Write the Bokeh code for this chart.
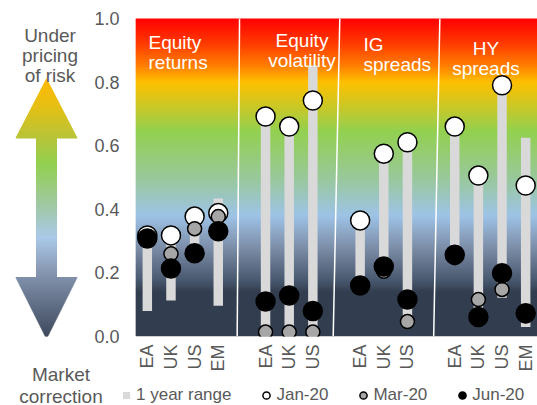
import numpy as np
from bokeh.plotting import figure
from bokeh.models import (Range1d, FixedTicker, Legend, LegendItem, ColumnDataSource,
                          NumeralTickFormatter, Label, LinearAxis)
from bokeh.layouts import row, column
from bokeh.embed import file_html
from bokeh.resources import INLINE
from bokeh.core.properties import value

# ---------------- data ----------------
group_titles = ["Equity\nreturns", "Equity\nvolatility", "IG\nspreads", "HY\nspreads"]
group_members = [["EA", "UK", "US", "EM"], ["EA", "UK", "US"], ["EA", "UK", "US"], ["EA", "UK", "US", "EM"]]

range_low = [0.08, 0.113, 0.25, 0.097, 0.014, 0.014, 0.014, 0.16, 0.20, 0.05, 0.245, 0.06, 0.122, 0.03]
range_high = [0.318, 0.318, 0.377, 0.434, 0.692, 0.66, 0.852, 0.365, 0.575, 0.611, 0.66, 0.506, 0.79, 0.625]
jan_20 = [0.318, 0.318, 0.377, 0.388, 0.692, 0.66, 0.742, 0.365, 0.575, 0.611, 0.66, 0.506, 0.79, 0.475]
mar_20 = [0.305, 0.26, 0.339, 0.377, 0.014, 0.014, 0.014, 0.155, 0.205, 0.047, 0.248, 0.116, 0.148, 0.065]
jun_20 = [0.308, 0.214, 0.262, 0.331, 0.11, 0.129, 0.08, 0.16, 0.22, 0.116, 0.257, 0.061, 0.199, 0.073]

y_ticks = [0.0, 0.2, 0.4, 0.6, 0.8, 1.0]
legend_labels = ["1 year range", "Jan-20", "Mar-20", "Jun-20"]
top_note = ["Under", "pricing", "of risk"]
bottom_note = ["Market", "correction"]

# ---------------- style / layout ----------------
FONT = "Liberation Sans"
GREY_TEXT = "#595959"
BAR_COLOR = "#d9d9d9"
JAN_STYLE = dict(fill_color="white", line_color="black", line_width=1.5)
MAR_STYLE = dict(fill_color="#a6a6a6", line_color="black", line_width=1.5)
JUN_STYLE = dict(fill_color="black", line_color="black", line_width=1.5)
PAGE_W, PAGE_H = 537, 405
BORDER_TOP, FRAME_H = 18, 318
LEGEND_H = 18
ROW_H = PAGE_H - LEGEND_H
BORDER_BOTTOM = ROW_H - BORDER_TOP - FRAME_H
SIDE_W, MAIN_BORDER_LEFT = 90, 45
MAIN_W = PAGE_W - SIDE_W

bg_stops = [(0.0, "#333f50"), (0.14, "#333f50"), (0.18, "#4a5a70"), (0.28, "#7d8ea8"),
            (0.38, "#9dc3e6"), (0.50, "#99c89a"), (0.645, "#92d050"), (0.72, "#c8c828"),
            (0.80, "#fec000"), (0.85, "#ff8000"), (0.92, "#ff3c00"), (1.0, "#ff0000")]
arrow_stops = [(-0.009, "#3b4659"), (0.05, "#4f5c72"), (0.2075, "#8898b2"), (0.311, "#a9c9e9"),
               (0.418, "#a0c8a0"), (0.544, "#92d050"), (0.626, "#b8c438"), (0.726, "#e6bf14"),
               (0.811, "#ffb900")]
# slant of the white group dividers (offsets from the gap centre, top and bottom)
divider_top_shift = [-0.10, 0.14, 0.37]
divider_bottom_shift = [-0.20, -0.14, 0.11]


def hex_to_rgb(h):
    h = h.lstrip("#")
    return [int(h[i:i + 2], 16) for i in (0, 2, 4)]


def gradient(stops, vals):
    pos = [s[0] for s in stops]
    rgb = np.array([hex_to_rgb(s[1]) for s in stops], dtype=float)
    out = []
    for v in vals:
        c = [int(round(np.interp(v, pos, rgb[:, k]))) for k in range(3)]
        out.append("#%02x%02x%02x" % tuple(c))
    return out


def page_y(y):
    """page pixel row -> value on the shared 0..1 scale"""
    return (BORDER_TOP + FRAME_H - y) / FRAME_H


def bare_axis(axis):
    axis.axis_line_color = None
    axis.major_tick_line_color = None
    axis.minor_tick_line_color = None
    axis.major_tick_out = 0
    axis.major_tick_in = 0
    axis.major_label_text_font = FONT
    axis.major_label_text_color = GREY_TEXT


# slot positions: one empty slot between groups
xs, labels = [], []
group_spans = []
slot = 0
for members in group_members:
    start = slot
    for m in members:
        xs.append(slot + 0.5)
        labels.append(m)
        slot += 1
    group_spans.append((start, slot))
    slot += 1
n_slots = slot - 1

# ---------------- main figure ----------------
p = figure(width=MAIN_W, height=ROW_H, x_range=Range1d(0, n_slots), y_range=Range1d(0, 1),
           toolbar_location=None, output_backend="svg",
           min_border_left=MAIN_BORDER_LEFT, min_border_right=0,
           min_border_top=BORDER_TOP, min_border_bottom=BORDER_BOTTOM)
p.outline_line_color = None
p.xgrid.visible = False
p.ygrid.visible = False

# background gradient
edges = np.linspace(0, 1, FRAME_H + 1)
mids = (edges[:-1] + edges[1:]) / 2
p.quad(left=0, right=n_slots, bottom=edges[:-1], top=edges[1:] + 0.6 / FRAME_H,
       fill_color=gradient(bg_stops, mids), line_color=None)

# group dividers
gap_centres = [e + 0.5 for (s, e) in group_spans[:-1]]
p.segment(x0=[g + d for g, d in zip(gap_centres, divider_top_shift)], y0=1,
          x1=[g + d for g, d in zip(gap_centres, divider_bottom_shift)], y1=0,
          line_color="white", line_width=1.5)

src = ColumnDataSource(dict(x=xs, low=range_low, high=range_high, jan=jan_20, mar=mar_20, jun=jun_20))
p.vbar(x="x", bottom="low", top="high", width=0.4, source=src, fill_color=BAR_COLOR, line_color=None)
p.scatter(x="x", y="jan", source=src, size=19, **JAN_STYLE)
p.scatter(x="x", y="mar", source=src, size=14, **MAR_STYLE)
p.scatter(x="x", y="jun", source=src, size=19, **JUN_STYLE)

# group titles
title_x = [0.55, 7.04, 9.64, 14.82]
title_align = ["left", "center", "left", "center"]
title_base = [41.7, 40.0, 44.3, 47.7]  # baseline of first line, page px
line_gap = 20 / FRAME_H
tx, ty, tt, ta = [], [], [], []
for t, x0, b0, al in zip(group_titles, title_x, title_base, title_align):
    for k, line in enumerate(t.split("\n")):
        tx.append(x0)
        ty.append(page_y(b0) - k * line_gap)
        tt.append(line)
        ta.append(al)
p.text(x=tx, y=ty, text=tt, text_align=ta, text_baseline="alphabetic",
       text_font=value(FONT), text_font_size="19px", text_color="white")

# axes
p.yaxis.ticker = FixedTicker(ticks=y_ticks)
p.yaxis.formatter = NumeralTickFormatter(format="0.0")
bare_axis(p.yaxis[0])
p.yaxis.major_label_text_font_size = "18px"
p.yaxis.major_label_standoff = 16

p.xaxis.ticker = FixedTicker(ticks=xs)
p.xaxis.major_label_overrides = {x: l for x, l in zip(xs, labels)}
p.xaxis.major_label_orientation = np.pi / 2
bare_axis(p.xaxis[0])
p.xaxis.major_label_text_font_size = "18px"
p.xaxis.major_label_standoff = 8

# ---------------- side figure: arrow and notes ----------------
side = figure(width=SIDE_W, height=ROW_H, x_range=Range1d(0, SIDE_W), y_range=Range1d(0, 1),
              toolbar_location=None, output_backend="svg",
              min_border_left=0, min_border_right=0,
              min_border_top=BORDER_TOP, min_border_bottom=BORDER_BOTTOM,
              x_axis_type=None, y_axis_type=None)
side.outline_line_color = None
side.xgrid.visible = False
side.ygrid.visible = False

cx, shaft_hw, head_hw = 46, 10.5, 31
tip_top, head_top, head_bot, tip_bot = page_y(78), page_y(138), page_y(277), page_y(339)
n_ar = int((tip_top - tip_bot) * FRAME_H)
ae = np.linspace(tip_bot, tip_top, n_ar + 1)
am = (ae[:-1] + ae[1:]) / 2
hw = []
for v in am:
    if v > head_top:
        hw.append(head_hw * (tip_top - v) / (tip_top - head_top))
    elif v < head_bot:
        hw.append(head_hw * (v - tip_bot) / (head_bot - tip_bot))
    else:
        hw.append(shaft_hw)
hw = np.array(hw)
side.quad(left=cx - hw, right=cx + hw, bottom=ae[:-1], top=ae[1:] + 0.6 / FRAME_H,
          fill_color=gradient(arrow_stops, am), line_color=None)

for txt, b in zip(top_note, (35, 55, 75)):
    side.add_layout(Label(x=49.5, y=page_y(b), text=txt, text_align="center", text_baseline="alphabetic",
                          text_font=FONT, text_font_size="19px", text_color=GREY_TEXT))

# first line of the bottom note: a bare axis below the side panel
ax = LinearAxis(ticker=FixedTicker(ticks=[60.5]), major_label_overrides={60.5: bottom_note[0]})
bare_axis(ax)
ax.major_label_text_font_size = "19px"
ax.major_label_standoff = 27
side.add_layout(ax, "below")

# ---------------- bottom strip: legend and second line of the note ----------------
strip = figure(width=PAGE_W, height=LEGEND_H, x_range=Range1d(0, PAGE_W), y_range=Range1d(0, LEGEND_H),
               toolbar_location=None, output_backend="svg", min_border=0,
               x_axis_type=None, y_axis_type=None)
strip.outline_line_color = None
strip.xgrid.visible = False
strip.ygrid.visible = False

strip.text(x=[60.5], y=[LEGEND_H / 2], text=[bottom_note[1]], text_align="center",
           text_baseline="middle", text_font=value(FONT), text_font_size="19px", text_color=GREY_TEXT)

k_range = strip.scatter(x=[np.nan], y=[np.nan], marker="square", fill_color=BAR_COLOR, line_color=None)
k_jan = strip.scatter(x=[np.nan], y=[np.nan], **JAN_STYLE)
k_mar = strip.scatter(x=[np.nan], y=[np.nan], **MAR_STYLE)
k_jun = strip.scatter(x=[np.nan], y=[np.nan], **JUN_STYLE)

legend = Legend(items=[LegendItem(label=lab, renderers=[r])
                       for lab, r in zip(legend_labels, [k_range, k_jan, k_mar, k_jun])],
                orientation="horizontal", location=(116, 0),
                glyph_width=20, glyph_height=18, label_height=18, label_standoff=-2, spacing=25,
                padding=0, margin=0, border_line_color=None, background_fill_alpha=0,
                label_text_font=FONT, label_text_font_size="17px", label_text_color=GREY_TEXT)
strip.add_layout(legend, "center")

layout = column(row(side, p), strip)
open("out.html", "w").write(file_html(layout, INLINE))
